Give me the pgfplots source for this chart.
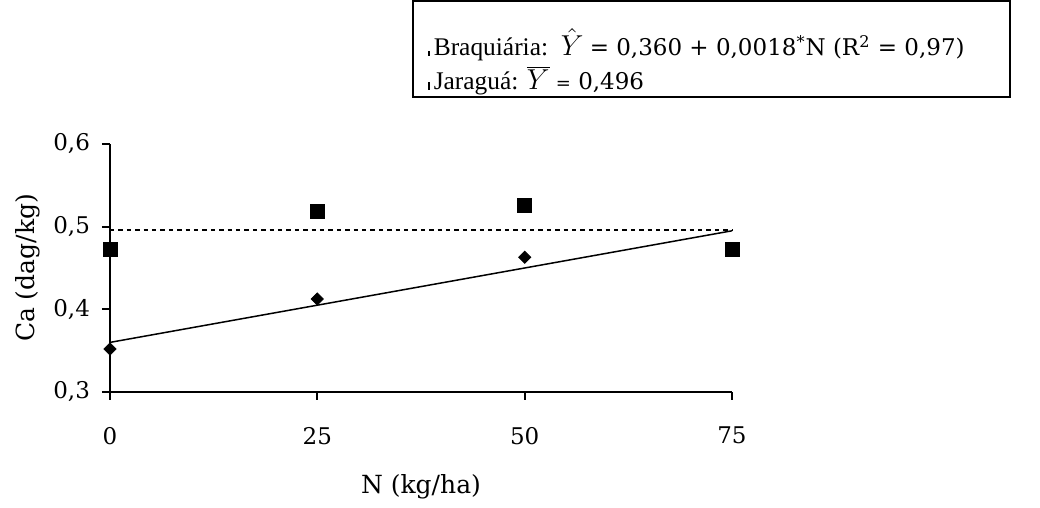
\documentclass[border=0pt]{standalone}
\usepackage{fontspec}
\setmainfont{DejaVu Serif}
\newfontfamily\legfont{Liberation Serif}
\newfontfamily\numfont{DejaVu Serif}
\usepackage{pgfplots}
\pgfplotsset{compat=1.18}

\begin{document}
\begin{tikzpicture}
\path[use as bounding box] (-55pt,-58pt) rectangle (465pt,196pt);
\begin{axis}[
  at={(0,0)}, anchor=south west,
  scale only axis, width=311pt, height=124pt,
  xmin=0, xmax=75, ymin=0.3, ymax=0.6,
  axis lines=left,
  axis line style={line width=1pt,-},
  xtick={0,25,50,75},
  ytick={0.3,0.4,0.5,0.6},
  tick align=outside,
  major tick length=4pt,
  tick style={line width=1pt,black},
  clip=false,
  ticklabel style={font=\fontsize{11.5}{13}\selectfont,
    /pgf/number format/assume math mode=true},
  yticklabel style={xshift=-2.5pt,/pgf/number format/.cd,fixed,fixed zerofill,precision=1,use comma},
  xticklabel style={yshift=-10pt},
  xlabel={N (kg/ha)},
  ylabel={Ca (dag/kg)},
  label style={font=\fontsize{12.5}{14}\selectfont},
  xlabel style={at={(axis description cs:0.5,-0.383)},anchor=center},
  ylabel style={at={(axis description cs:-0.132,0.5)},anchor=center},
]
% regression line (Braquiaria) and mean line (Jaragua)
\addplot[line width=0.75pt,black] coordinates {(0,0.360) (75,0.495)};
\addplot[line width=0.9pt,black,dash pattern=on 2.2pt off 2pt] coordinates {(0,0.496) (75,0.496)};
% Braquiaria
\addplot[only marks,mark=square*,mark size=2.15pt,mark options={rotate=45},black] coordinates {
  (0,0.352) (25,0.4125) (50,0.463) (75,0.472)};
% Jaragua
\addplot[only marks,mark=square*,mark size=3.5pt,black] coordinates {
  (0,0.472) (25,0.518) (50,0.526) (75,0.472)};
\end{axis}
\draw[line width=1pt] (151.5pt,147.5pt) rectangle (450pt,195.5pt);
\node[anchor=base west,inner sep=0,font=\legfont\fontsize{12.7}{14}\selectfont] at (159pt,168pt)
  {\rule{0.6pt}{2.5pt}\,Braquiária:\ \ {\fontsize{14}{16}\selectfont$\hat{Y}$}\ {\numfont\fontsize{11.5}{14}\selectfont
   = 0,360 + 0,0018\textsuperscript{*}N (R\textsuperscript{2} = 0,97)}};
\node[anchor=base west,inner sep=0,font=\legfont\fontsize{12.7}{14}\selectfont] at (159pt,151pt)
  {\rule{0.6pt}{4pt}\,Jaraguá: {\fontsize{14}{16}\selectfont$\overline{Y}$} {\numfont\fontsize{11.5}{14}\selectfont
   {\fontsize{9}{10}\selectfont=} 0,496}};
\end{tikzpicture}
\end{document}
